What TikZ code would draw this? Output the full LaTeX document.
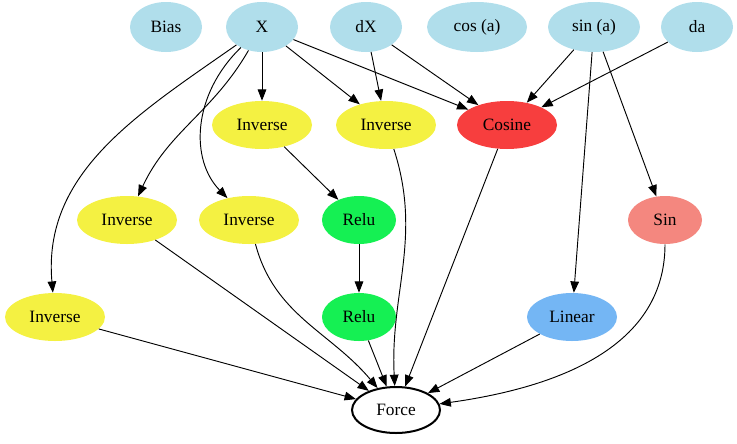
\documentclass[tikz,border=0pt]{standalone}
\usepackage{fontspec}
\setmainfont{Liberation Serif}
\usetikzlibrary{shapes.geometric,arrows.meta}
\definecolor{inputblue}{HTML}{B0DEEB}
\definecolor{invyellow}{HTML}{F4F142}
\definecolor{cosred}{HTML}{F73E3E}
\definecolor{relugreen}{HTML}{15F053}
\definecolor{sinsalmon}{HTML}{F4877F}
\definecolor{linblue}{HTML}{74B6F4}
\tikzset{
  op/.style={ellipse, inner sep=0pt, font=\fontsize{13}{15}\selectfont},
  inp/.style={op, fill=inputblue, minimum height=37.5pt},
  inv/.style={op, fill=invyellow, minimum width=75pt, minimum height=36pt},
  cosn/.style={op, fill=cosred, minimum width=75pt, minimum height=36pt},
  relun/.style={op, fill=relugreen, minimum width=55.5pt, minimum height=36pt},
  sinn/.style={op, fill=sinsalmon, minimum width=55.5pt, minimum height=36pt},
  linn/.style={op, fill=linblue, minimum width=67.5pt, minimum height=36pt},
  outn/.style={op, draw=black, line width=1.5pt, fill=white, minimum width=66pt, minimum height=34.5pt},
  edge/.style={draw, line width=0.7pt, -{Triangle[length=8.5pt, width=6.5pt]}}
}
\begin{document}
\begin{tikzpicture}[x=0.75pt, y=-0.75pt]
\useasboundingbox (0,0) rectangle (737,443);
% inputs
\node[inp, minimum width=54pt] (bias) at (166,27) {Bias};
\node[inp, minimum width=54pt] (x) at (262,27) {X};
\node[inp, minimum width=54pt] (dx) at (366,27) {dX};
\node[inp, minimum width=75pt] (cosa) at (477,27) {cos (a)};
\node[inp, minimum width=69pt] (sina) at (594,27) {sin (a)};
\node[inp, minimum width=54pt] (da) at (697,27) {da};
% operations
\node[inv] (inv1) at (262,125) {Inverse};
\node[inv] (inv2) at (386,125) {Inverse};
\node[cosn] (cosine) at (507,125) {Cosine};
\node[inv] (inv3) at (127,220) {Inverse};
\node[inv] (inv4) at (249,220) {Inverse};
\node[relun] (relu1) at (359,220) {Relu};
\node[sinn] (sin) at (665,220) {Sin};
\node[inv] (inv5) at (55,317) {Inverse};
\node[relun] (relu2) at (359,317) {Relu};
\node[linn] (linear) at (572,317) {Linear};
\node[outn] (force) at (396,410) {Force};
% edges from X
\path[edge] (x) -- (inv1);
\path[edge] (x) -- (inv2);
\path[edge] (x) -- (cosine);
\path[edge] (x) to[out=215, in=95] (inv5);
\path[edge] (x) to[out=240, in=65] (inv3);
\path[edge] (x) .. controls (192,95) and (190,160) .. (inv4);
% other inputs
\path[edge] (dx) -- (inv2);
\path[edge] (dx) -- (cosine);
\path[edge] (sina) -- (cosine);
\path[edge] (da) -- (cosine);
\path[edge] (sina) -- (linear);
\path[edge] (sina) -- (sin);
% chain
\path[edge] (inv1) -- (relu1);
\path[edge] (relu1) -- (relu2);
% into Force
\path[edge] (inv5) -- (force);
\path[edge] (inv3) -- (force);
\path[edge] (inv4) to[out=-75, in=130] (force);
\path[edge] (relu2) -- (force);
\path[edge] (inv2) to[out=-72, in=93] (force);
\path[edge] (cosine) -- (force);
\path[edge] (linear) -- (force);
\path[edge] (sin) to[out=-90, in=8] (force);
\end{tikzpicture}
\end{document}
